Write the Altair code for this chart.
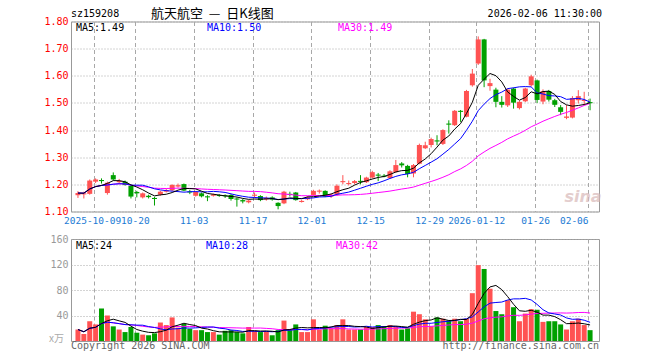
import altair as alt
import pandas as pd

# ---------------- data ----------------
opens = [1.160, 1.164, 1.165, 1.210, 1.216, 1.168, 1.234, 1.208, 1.210, 1.194,
         1.172, 1.152, 1.158, 1.150, 1.162, 1.173, 1.178, 1.192, 1.201, 1.174,
         1.158, 1.167, 1.156, 1.158, 1.161, 1.160, 1.161, 1.148, 1.142, 1.134,
         1.160, 1.157, 1.145, 1.152, 1.132, 1.130, 1.165, 1.170, 1.137, 1.145,
         1.161, 1.175, 1.176, 1.155, 1.162, 1.208, 1.203, 1.205, 1.213, 1.208,
         1.225, 1.236, 1.232, 1.223, 1.245, 1.277, 1.268, 1.240, 1.276, 1.333,
         1.345, 1.362, 1.349, 1.424, 1.418, 1.471, 1.449, 1.565, 1.645, 1.734,
         1.562, 1.549, 1.504, 1.491, 1.553, 1.481, 1.506, 1.565, 1.583, 1.505,
         1.544, 1.510, 1.484, 1.445, 1.446, 1.510, 1.508, 1.503]
highs = [1.175, 1.173, 1.218, 1.222, 1.222, 1.210, 1.244, 1.220, 1.214, 1.197,
         1.176, 1.170, 1.162, 1.154, 1.176, 1.184, 1.200, 1.203, 1.203, 1.180,
         1.175, 1.170, 1.160, 1.166, 1.164, 1.163, 1.164, 1.152, 1.146, 1.143,
         1.170, 1.160, 1.155, 1.156, 1.134, 1.176, 1.173, 1.172, 1.143, 1.156,
         1.180, 1.181, 1.178, 1.166, 1.200, 1.234, 1.214, 1.216, 1.234, 1.228,
         1.250, 1.242, 1.238, 1.252, 1.290, 1.282, 1.272, 1.275, 1.350, 1.357,
         1.372, 1.381, 1.403, 1.436, 1.474, 1.474, 1.548, 1.625, 1.745, 1.736,
         1.589, 1.556, 1.525, 1.553, 1.556, 1.508, 1.556, 1.604, 1.586, 1.550,
         1.548, 1.515, 1.492, 1.492, 1.525, 1.547, 1.541, 1.516]
lows = [1.150, 1.148, 1.162, 1.205, 1.203, 1.162, 1.214, 1.203, 1.195, 1.148,
        1.152, 1.148, 1.148, 1.122, 1.158, 1.170, 1.175, 1.188, 1.175, 1.164,
        1.155, 1.152, 1.138, 1.155, 1.154, 1.150, 1.140, 1.118, 1.130, 1.130,
        1.150, 1.138, 1.140, 1.140, 1.108, 1.127, 1.155, 1.140, 1.133, 1.142,
        1.158, 1.166, 1.153, 1.150, 1.158, 1.200, 1.196, 1.200, 1.200, 1.205,
        1.222, 1.212, 1.226, 1.220, 1.243, 1.262, 1.226, 1.226, 1.274, 1.330,
        1.336, 1.344, 1.345, 1.387, 1.415, 1.430, 1.447, 1.560, 1.640, 1.558,
        1.545, 1.484, 1.483, 1.485, 1.479, 1.476, 1.503, 1.560, 1.500, 1.495,
        1.505, 1.485, 1.455, 1.440, 1.443, 1.498, 1.491, 1.473]
closes = [1.168, 1.167, 1.214, 1.218, 1.213, 1.206, 1.218, 1.213, 1.198, 1.155,
          1.167, 1.167, 1.153, 1.146, 1.173, 1.179, 1.198, 1.197, 1.177, 1.172,
          1.172, 1.156, 1.155, 1.163, 1.157, 1.156, 1.146, 1.145, 1.137, 1.140,
          1.162, 1.142, 1.150, 1.144, 1.120, 1.173, 1.163, 1.142, 1.139, 1.152,
          1.176, 1.177, 1.155, 1.162, 1.195, 1.212, 1.205, 1.212, 1.211, 1.225,
          1.245, 1.234, 1.230, 1.248, 1.271, 1.270, 1.238, 1.271, 1.345, 1.344,
          1.367, 1.359, 1.400, 1.421, 1.471, 1.468, 1.544, 1.608, 1.734, 1.583,
          1.573, 1.504, 1.493, 1.549, 1.501, 1.504, 1.553, 1.598, 1.511, 1.543,
          1.512, 1.493, 1.467, 1.450, 1.518, 1.525, 1.511, 1.499]
volumes = [18, 11, 31, 26, 51, 40, 23, 18, 14, 22,
           13, 10, 9, 12, 29, 25, 37, 21, 27, 19,
           17, 17, 14, 14, 10, 16, 17, 14, 12, 22,
           16, 14, 15, 9, 17, 32, 17, 26, 14, 14,
           34, 18, 24, 20, 25, 34, 18, 18, 18, 22,
           22, 25, 23, 25, 22, 18, 20, 46, 42, 34,
           23, 37, 35, 32, 35, 31, 35, 75, 119, 113,
           82, 47, 42, 64, 53, 31, 43, 50, 49, 30,
           31, 31, 26, 18, 31, 35, 25, 17]

tick_idx = [3, 10, 20, 30, 40, 50, 60, 68, 78, 87]
tick_labels = ["2025-10-09", "10-20", "11-03", "11-17", "12-01",
               "12-15", "12-29", "2026-01-12", "01-26", "02-06"]
price_ticks = [1.10, 1.20, 1.30, 1.40, 1.50, 1.60, 1.70, 1.80]
vol_ticks = [40, 80, 120, 160]

df = pd.DataFrame({"i": list(range(len(closes))), "o": opens, "h": highs,
                   "l": lows, "c": closes, "v": volumes})
one = pd.DataFrame({"k": [0]})

# ---------------- style ----------------
RED = "#ff5252"
GREEN = "#00a000"
GRID = "#a8a8a8"
MONO = "DejaVu Sans Mono"
CJK = "Noto Sans CJK SC"
NB = "\u00a0"

xscale = alt.Scale(domain=[-1 / 3, 87 + 2 / 3], nice=False, zero=False)
label_expr = ("[" + ",".join("'%s'" % s for s in tick_labels) + "][indexof(["
              + ",".join(str(t) for t in tick_idx) + "], datum.value)]")

x_top_axis = alt.Axis(values=tick_idx, labelExpr=label_expr, tickOffset=-2,
                      grid=True, gridDash=[4, 3], gridColor=GRID, ticks=False,
                      domain=False, labelColor="#1a7ad4", labelFont=MONO,
                      labelFontSize=9.5, labelPadding=4, labelFlush=10,
                      labelOffset={"condition": {"test": "datum.value == 3", "value": -1.5},
                                   "value": 0},
                      labelOverlap=False, title=None, minExtent=14, maxExtent=14)
x_bot_axis = alt.Axis(values=tick_idx, tickOffset=-2, grid=True, gridDash=[4, 3],
                      gridColor=GRID, ticks=False, domain=False, labels=False,
                      title=None, minExtent=0, maxExtent=0)

pscale = alt.Scale(domain=[1.10, 1.80], nice=False, zero=False)
p_axis = alt.Axis(values=price_ticks, format=".2f", grid=True, gridDash=[1, 2],
                  gridColor=GRID, ticks=False, domain=False, labelColor="#ff0000",
                  labelFont=MONO, labelFontSize=10, labelPadding=3, title=None,
                  minExtent=70, maxExtent=70)
vscale = alt.Scale(domain=[0, 160], nice=False)
v_axis = alt.Axis(values=vol_ticks, grid=True, gridDash=[1, 2], gridColor=GRID,
                  ticks=False, domain=False, labelColor="#999999", labelFont=MONO,
                  labelFontSize=10, labelPadding=3, title=None,
                  minExtent=70, maxExtent=70)

COL = alt.Color("dir:N", scale=alt.Scale(domain=["up", "down"], range=[RED, GREEN]),
                legend=None)

base = alt.Chart(df).transform_calculate(
    dir="datum.c >= datum.o ? 'up' : 'down'",
    bt="max(datum.o, datum.c)",
    bb="min(datum.o, datum.c, max(datum.o, datum.c) - 0.004)",
)

XT = alt.X("i:Q", scale=xscale, axis=x_top_axis)
XB = alt.X("i:Q", scale=xscale, axis=x_bot_axis)

wicks = base.mark_rule(strokeWidth=1).encode(
    x=XT, y=alt.Y("l:Q", scale=pscale, axis=p_axis), y2="h:Q", color=COL)
bodies = base.mark_bar(size=5).encode(
    x=XT, y=alt.Y("bt:Q", scale=pscale, axis=p_axis), y2="bb:Q", color=COL)


def ma_line(field, n, color, xenc, scale, axis):
    return alt.Chart(df).transform_window(
        m="mean(%s)" % field, frame=[-(n - 1), 0], sort=[alt.SortField("i")]
    ).mark_line(color=color, strokeWidth=1).encode(
        x=xenc, y=alt.Y("m:Q", scale=scale, axis=axis))


def label(txt, x, y, color="black", align="left", font=MONO, size=10, **kw):
    return alt.Chart(one).mark_text(
        align=align, baseline="middle", font=font, fontSize=size, color=color, **kw
    ).encode(x=alt.value(x), y=alt.value(y), text=alt.value(txt))


price = alt.layer(
    wicks, bodies,
    ma_line("c", 30, "#ff00ff", XT, pscale, p_axis),
    ma_line("c", 10, "#0000ff", XT, pscale, p_axis),
    ma_line("c", 5, "#000000", XT, pscale, p_axis),
    label("sina", 512, 175, color="#d8b8b8", align="center", font="DejaVu Sans",
          size=16, fontStyle="italic", fontWeight="bold", opacity=0.7),
    label("MA5:1.49", 5, 6),
    label("MA10:1.50", 136, 6, color="#0000ff"),
    label("MA30:1.49", 267, 6, color="#ff00ff"),
    label("sz159208", 0, -8),
    label("航天航空" + NB * 2 + "—" + NB * 2 + "日K线图", 80, -8, font=CJK, size=13),
    label("2026-02-06 11:30:00", 531, -8, align="right"),
).properties(width=528, height=190)

vbars = base.mark_bar(size=5).encode(
    x=XB, y=alt.Y("v:Q", scale=vscale, axis=v_axis), color=COL)

volume = alt.layer(
    vbars,
    ma_line("v", 30, "#ff00ff", XB, vscale, v_axis),
    ma_line("v", 10, "#0000ff", XB, vscale, v_axis),
    ma_line("v", 5, "#000000", XB, vscale, v_axis),
    label("MA5:24", 5, 7),
    label("MA10:28", 135, 7, color="#0000ff"),
    label("MA30:42", 265, 7, color="#ff00ff"),
    label("x万", -7, 100, color="#aaaaaa", align="right", font=CJK, size=10),
    label("Copyright 2026 SINA.COM", 0, 107, color="#666666"),
    label("http://finance.sina.com.cn", 528, 107, color="#666666", align="right"),
).properties(width=528, height=102)

chart = alt.vconcat(price, volume, spacing=6.5).properties(
    padding={"left": 0, "top": 6.5, "right": 0, "bottom": 0},
    background="white",
).configure_view(stroke="#999999", strokeWidth=1)

chart.save("out.html", embed_options={"renderer": "svg", "actions": False})
